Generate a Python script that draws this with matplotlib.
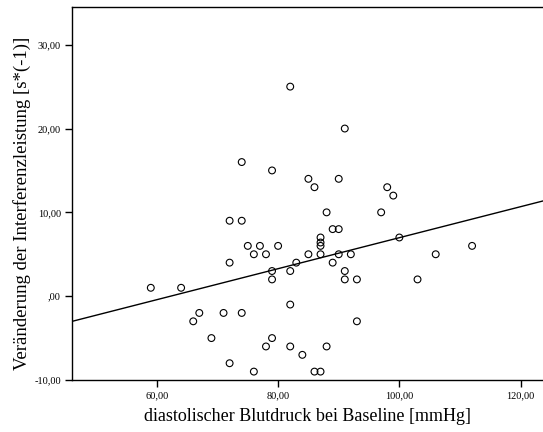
import numpy as np
import matplotlib; matplotlib.use("Agg")
import matplotlib.pyplot as plt
from matplotlib.ticker import FuncFormatter

# diastolic blood pressure at baseline [mmHg]
dbp = [82, 91, 74, 79, 85, 90, 86, 98, 99, 88, 97, 72, 74, 89, 90, 87, 100,
       75, 77, 80, 87, 87, 112, 76, 78, 85, 87, 90, 92, 106, 72, 83, 89,
       79, 82, 91, 79, 91, 93, 103, 59, 64, 82, 67, 71, 74, 66, 93,
       69, 79, 78, 82, 88, 84, 72, 76, 86, 87]
# change in interference performance [s*(-1)]
delta = [25, 20, 16, 15, 14, 14, 13, 13, 12, 10, 10, 9, 9, 8, 8, 7, 7,
         6, 6, 6, 6, 6.4, 6, 5, 5, 5, 5, 5, 5, 5, 4, 4, 4,
         3, 3, 3, 2, 2, 2, 2, 1, 1, -1, -2, -2, -2, -3, -3,
         -5, -5, -6, -6, -6, -7, -8, -9, -9, -9]

x_ticks = [60, 80, 100, 120]
y_ticks = [-10, 0, 10, 20, 30]
x_lim = (46.0, 123.7)
y_lim = (-10.0, 34.5)

plt.rcParams["font.family"] = ["Liberation Serif", "DejaVu Serif"]

fig = plt.figure(figsize=(5.43, 4.32), dpi=100)
ax = fig.add_axes([0.1326, 0.1204, 0.8674, 0.8634])

ax.scatter(dbp, delta, s=24, facecolors="none", edgecolors="black",
           linewidths=0.8, zorder=3)

# linear fit over the whole x range
slope, icpt = np.polyfit(dbp, delta, 1)
xs = np.array(x_lim)
ax.plot(xs, slope * xs + icpt, color="black", lw=1.0, zorder=2)

ax.set_xlim(*x_lim)
ax.set_ylim(*y_lim)
ax.set_xticks(x_ticks)
ax.set_yticks(y_ticks)

def de_fmt(v, pos):
    s = f"{v:.2f}".replace(".", ",")
    return s[1:] if s.startswith("0,") else s

ax.xaxis.set_major_formatter(FuncFormatter(de_fmt))
ax.yaxis.set_major_formatter(FuncFormatter(de_fmt))
ax.tick_params(direction="out", length=5, width=1, labelsize=7.5, pad=3)

for side in ("left", "bottom", "top"):
    ax.spines[side].set_linewidth(1.0)
ax.spines["right"].set_visible(False)

ax.set_xlabel("diastolischer Blutdruck bei Baseline [mmHg]", fontsize=13, labelpad=6)
ax.set_ylabel("Veränderung der Interferenzleistung [s*(-1)]", fontsize=13.5)
ax.yaxis.set_label_coords(-0.087, 0.473)

fig.savefig("out.png", dpi=100)
